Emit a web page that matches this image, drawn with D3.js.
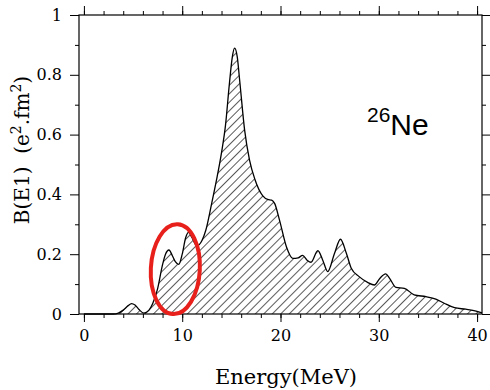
<!DOCTYPE html>
<html>
<head>
<meta charset="utf-8">
<script src="https://cdn.jsdelivr.net/npm/d3@7"></script>
<style>
  body { margin: 0; background: #fff; }
</style>
</head>
<body>
<div id="chart"></div>
<script>
// E1 strength distribution for 26Ne

// energy (MeV) and B(E1) (e2.fm2)
var energy = [0, 3.0, 3.5, 4.0, 4.5, 4.85, 5.2, 5.6, 6.1, 6.6, 7.0, 7.5, 8.0, 8.3, 8.65,
    9.0, 9.3, 9.65, 10.0, 10.35, 10.65, 11.0, 11.5, 12.0, 12.4, 13.0, 13.5, 14.0, 14.4,
    14.8, 15.1, 15.33, 15.6, 15.85, 16.35, 16.85, 17.4, 18.2, 18.7, 19.1, 19.4, 19.9,
    20.6, 21.25, 21.8, 22.25, 22.7, 23.1, 23.8, 24.3, 24.8, 25.5, 26.1, 26.7, 27.2,
    28.0, 28.9, 29.55, 30.1, 30.7, 31.1, 31.75, 32.6, 33.6, 34.8, 35.8, 36.65, 37.7,
    38.85, 39.9, 40.5];
var strength = [0, 0, 0.003, 0.013, 0.028, 0.035, 0.03, 0.015, 0.003, 0.012, 0.035, 0.085,
    0.165, 0.2, 0.214, 0.195, 0.175, 0.166, 0.2, 0.255, 0.273, 0.255, 0.228, 0.245, 0.28,
    0.37, 0.45, 0.54, 0.63, 0.77, 0.86, 0.889, 0.86, 0.78, 0.615, 0.515, 0.45, 0.395,
    0.383, 0.381, 0.37, 0.314, 0.225, 0.186, 0.188, 0.196, 0.18, 0.173, 0.212, 0.18,
    0.142, 0.203, 0.25, 0.203, 0.153, 0.125, 0.105, 0.097, 0.119, 0.134, 0.119, 0.089,
    0.086, 0.064, 0.058, 0.05, 0.036, 0.021, 0.016, 0.010, 0.004];

var xMajor = [0, 10, 20, 30, 40];
var xMinor = d3.range(0, 41, 2);
var yMajor = [0, 0.2, 0.4, 0.6, 0.8, 1];
var yMinor = [0.1, 0.3, 0.5, 0.7, 0.9];

// circled region (energy, B(E1)) of the low-lying strength
var circled = [9.3, 0.15];

var width = 490, height = 390;
var margin = {top: 15, right: 8, bottom: 76, left: 79};

var svg = d3.select('#chart').append('svg')
    .attr('width', width)
    .attr('height', height)
    .style('font-family', '"DejaVu Serif", serif');

var x = d3.scaleLinear().domain([-0.5, 40.5]).range([margin.left, width - margin.right]);
var y = d3.scaleLinear().domain([0, 1]).range([height - margin.bottom, margin.top]);

var pts = energy.map(function(e, i) { return [e, strength[i]]; });

// hatch pattern
var hs = 6;
var defs = svg.append('defs');
defs.append('pattern')
    .attr('id', 'hatch')
    .attr('patternUnits', 'userSpaceOnUse')
    .attr('width', hs)
    .attr('height', hs)
    .attr('patternTransform', 'rotate(45)')
  .append('line')
    .attr('x1', 0).attr('y1', 0)
    .attr('x2', 0).attr('y2', hs)
    .attr('stroke', '#000')
    .attr('stroke-width', 1.3);

var area = d3.area()
    .x(function(d) { return x(d[0]); })
    .y0(y(0))
    .y1(function(d) { return y(d[1]); })
    .curve(d3.curveMonotoneX);

var line = d3.line()
    .x(function(d) { return x(d[0]); })
    .y(function(d) { return y(d[1]); })
    .curve(d3.curveMonotoneX);

svg.append('path')
    .datum(pts)
    .attr('d', area)
    .attr('fill', 'url(#hatch)');

svg.append('path')
    .datum(pts)
    .attr('d', line)
    .attr('fill', 'none')
    .attr('stroke', '#000')
    .attr('stroke-width', 1.3);

// axes, all ticks outward
function styleAxis(g) {
    g.select('.domain').remove();
    g.selectAll('.tick line').attr('stroke', '#000').attr('stroke-width', 1);
    g.selectAll('.tick text').attr('fill', '#000').style('font-size', '16px')
        .style('font-family', '"DejaVu Serif", serif');
}

var pBottom = height - margin.bottom, pTop = margin.top;
var pLeft = margin.left, pRight = width - margin.right;

svg.append('g').attr('transform', 'translate(0,' + pBottom + ')')
    .call(d3.axisBottom(x).tickValues(xMinor).tickSize(4).tickFormat(''))
    .call(styleAxis);
svg.append('g').attr('transform', 'translate(0,' + pBottom + ')')
    .call(d3.axisBottom(x).tickValues(xMajor).tickSize(8).tickPadding(8).tickFormat(d3.format('d')))
    .call(styleAxis);
svg.append('g').attr('transform', 'translate(0,' + pTop + ')')
    .call(d3.axisTop(x).tickValues(xMinor).tickSize(4).tickFormat(''))
    .call(styleAxis);
svg.append('g').attr('transform', 'translate(0,' + pTop + ')')
    .call(d3.axisTop(x).tickValues(xMajor).tickSize(9).tickFormat(''))
    .call(styleAxis);

svg.append('g').attr('transform', 'translate(' + pLeft + ',0)')
    .call(d3.axisLeft(y).tickValues(yMinor).tickSize(4).tickFormat(''))
    .call(styleAxis);
svg.append('g').attr('transform', 'translate(' + pLeft + ',0)')
    .call(d3.axisLeft(y).tickValues(yMajor).tickSize(9).tickPadding(8)
        .tickFormat(function(d) { return d === 0 || d === 1 ? d3.format('d')(d) : d3.format('.1f')(d); }))
    .call(styleAxis);
svg.append('g').attr('transform', 'translate(' + pRight + ',0)')
    .call(d3.axisRight(y).tickValues(yMinor).tickSize(4).tickFormat(''))
    .call(styleAxis);
svg.append('g').attr('transform', 'translate(' + pRight + ',0)')
    .call(d3.axisRight(y).tickValues(yMajor).tickSize(8).tickFormat(''))
    .call(styleAxis);

svg.append('rect')
    .attr('x', pLeft).attr('y', pTop)
    .attr('width', pRight - pLeft).attr('height', pBottom - pTop)
    .attr('fill', 'none')
    .attr('stroke', '#000')
    .attr('stroke-width', 1.2);

// axis titles
svg.append('text')
    .attr('x', 286)
    .attr('y', 384)
    .attr('text-anchor', 'middle')
    .style('font-size', '21px')
    .text('Energy(MeV)');

var yt = svg.append('text')
    .attr('transform', 'translate(29,150) rotate(-90)')
    .attr('text-anchor', 'middle')
    .style('white-space', 'pre')
    .style('font-size', '20px');
yt.append('tspan').text('B(E1)  (e');
yt.append('tspan').attr('dy', -8).style('font-size', '14px').text('2');
yt.append('tspan').attr('dy', 8).text('.fm');
yt.append('tspan').attr('dy', -8).style('font-size', '14px').text('2');
yt.append('tspan').attr('dy', 8).text(')');

// nucleus label
var nl = svg.append('text')
    .attr('x', 367)
    .attr('y', 135)
    .style('font-family', '"Liberation Sans", Arial, sans-serif')
    .style('font-size', '30px');
nl.append('tspan').attr('dy', -13).style('font-size', '21px').text('26');
nl.append('tspan').attr('dy', 13).text('Ne');

// red ellipse
svg.append('ellipse')
    .attr('cx', x(circled[0]))
    .attr('cy', y(circled[1]))
    .attr('rx', 24.5)
    .attr('ry', 45)
    .attr('transform', 'rotate(3,' + x(circled[0]) + ',' + y(circled[1]) + ')')
    .attr('fill', 'none')
    .attr('stroke', '#e8201c')
    .attr('stroke-width', 4);
</script>
</body>
</html>
